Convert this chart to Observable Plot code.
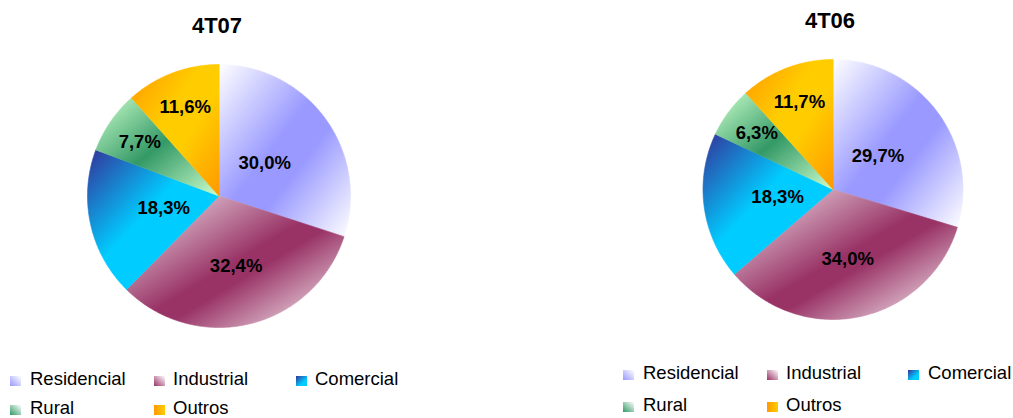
<!DOCTYPE html>
<html><head><meta charset="utf-8">
<script src="https://cdn.jsdelivr.net/npm/d3@7"></script>
<script src="https://cdn.jsdelivr.net/npm/@observablehq/plot@0.6"></script>
<style>
body{margin:0;background:#fff;}
#chart{position:relative;width:1013px;height:418px;overflow:hidden;font-family:"Liberation Sans",Arial,sans-serif;background:#fff;color:#000;}
.title{position:absolute;font-weight:bold;font-size:22px;line-height:22px;text-align:center;width:120px;}
.leg{position:absolute;font-size:18.5px;line-height:18.5px;white-space:nowrap;}
.sw{position:absolute;width:11px;height:10px;}
.pie{position:absolute;top:0;}
</style></head><body><div id="chart"></div>
<script>
// ---- data ----
const categories = ["Residencial", "Industrial", "Comercial", "Rural", "Outros"];
const periods = ["4T07", "4T06"];
const values4T07 = [30.0, 32.4, 18.3, 7.7, 11.6];
const values4T06 = [29.7, 34.0, 18.3, 6.3, 11.7];
const seriesByPeriod = {"4T07": values4T07, "4T06": values4T06};

// ---- styles ----
const gradients = [
  {dir: [0,0,1,1], stops: [[0,"#ffffff"],[0.45,"#9999ff"],[0.6,"#9999ff"],[1,"#ffffff"]]},
  {dir: [0,0,1,1], stops: [[0,"#f4eef2"],[0.5,"#993366"],[0.58,"#993366"],[1,"#ffffff"]]},
  {dir: [0,0,1,1], stops: [[0,"#333399"],[0.45,"#00ccff"],[1,"#00ccff"]]},
  {dir: [0,0,1,1], stops: [[0,"#ccffcc"],[0.5,"#339966"],[1,"#ccffcc"]]},
  {dir: [0,0,1,1], stops: [[0,"#ff9900"],[0.4,"#ffcc00"],[0.6,"#ffcc00"],[1,"#ff9900"]]}
];
const swatchCss = [
  "linear-gradient(to top right, #9999ff, #ffffff)",
  "linear-gradient(to top right, #993366, #ffffff)",
  "linear-gradient(to bottom right, #333399, #00ccff 65%)",
  "linear-gradient(to top right, #339966, #ffffff)",
  "linear-gradient(to right, #ff9900, #ffcc00)"
];
const labelRadius = [0.43, 0.55, 0.43, 0.73, 0.72];
const layout = {
  "4T07": {left: 0, width: 506, cx: 218.5, cy: 195.5, r: 131.5, titleX: 217, titleBase: 34,
           swX: [10, 154, 296], txX: [30, 173, 315], base: [386, 415]},
  "4T06": {left: 506, width: 507, cx: 832.5, cy: 189, r: 130, titleX: 830, titleBase: 29,
           swX: [623, 767, 908], txX: [643, 786, 928], base: [380, 412]}
};
const legendPos = [[0,0],[1,0],[2,0],[0,1],[1,1]];

const chart = document.getElementById("chart");
const fmt = v => v.toFixed(1).replace(".", ",") + "%";

periods.forEach((period, pi) => {
  const L = layout[period];
  const values = seriesByPeriod[period];
  const arcs = d3.pie().sort(null).value(d => d.value)(categories.map((c, i) => ({category: c, value: values[i], i})));

  const marks = arcs.map(a => {
    const pts = [{x: 0, y: 0}];
    const n = Math.max(4, Math.ceil((a.endAngle - a.startAngle) / (Math.PI / 180)));
    for (let k = 0; k <= n; k++) {
      const t = a.startAngle + (a.endAngle - a.startAngle) * k / n;
      pts.push({x: Math.sin(t), y: Math.cos(t)});
    }
    const id = `url(#g-${pi}-${a.data.i})`;
    return Plot.line(pts, {x: "x", y: "y", curve: "linear-closed", fill: id, stroke: id, strokeWidth: 0.6});
  });

  const labels = arcs.map(a => {
    const m = (a.startAngle + a.endAngle) / 2;
    const k = labelRadius[a.data.i];
    return {x: k * Math.sin(m), y: k * Math.cos(m), text: fmt(a.data.value)};
  });
  marks.push(Plot.text(labels, {x: "x", y: "y", text: "text", fontWeight: "bold", fontSize: 18.5, fill: "#000"}));

  const cxr = L.cx - L.left;
  const svg = Plot.plot({
    width: L.width, height: 345, margin: 0,
    x: {domain: [-1, 1], range: [cxr - L.r, cxr + L.r], axis: null},
    y: {domain: [-1, 1], range: [L.cy + L.r, L.cy - L.r], axis: null},
    style: {background: "transparent", fontFamily: "'Liberation Sans', Arial, sans-serif", overflow: "visible"},
    marks
  });
  const defs = d3.select(svg).insert("defs", ":first-child");
  gradients.forEach((g, i) => {
    const lg = defs.append("linearGradient").attr("id", `g-${pi}-${i}`)
      .attr("x1", g.dir[0]).attr("y1", g.dir[1]).attr("x2", g.dir[2]).attr("y2", g.dir[3]);
    g.stops.forEach(([o, c]) => lg.append("stop").attr("offset", o).attr("stop-color", c));
  });
  svg.classList.add("pie");
  svg.style.left = L.left + "px";
  chart.appendChild(svg);

  const title = document.createElement("div");
  title.className = "title";
  title.textContent = period;
  title.style.left = (L.titleX - 60) + "px";
  title.style.top = (L.titleBase - 18.6) + "px";
  chart.appendChild(title);

  categories.forEach((c, i) => {
    const [col, row] = legendPos[i];
    const sw = document.createElement("div");
    sw.className = "sw";
    sw.style.background = swatchCss[i];
    sw.style.left = L.swX[col] + "px";
    sw.style.top = (L.base[row] - 10) + "px";
    chart.appendChild(sw);
    const tx = document.createElement("div");
    tx.className = "leg";
    tx.textContent = c;
    tx.style.left = L.txX[col] + "px";
    tx.style.top = (L.base[row] - 15.66) + "px";
    chart.appendChild(tx);
  });
});
</script></body></html>
